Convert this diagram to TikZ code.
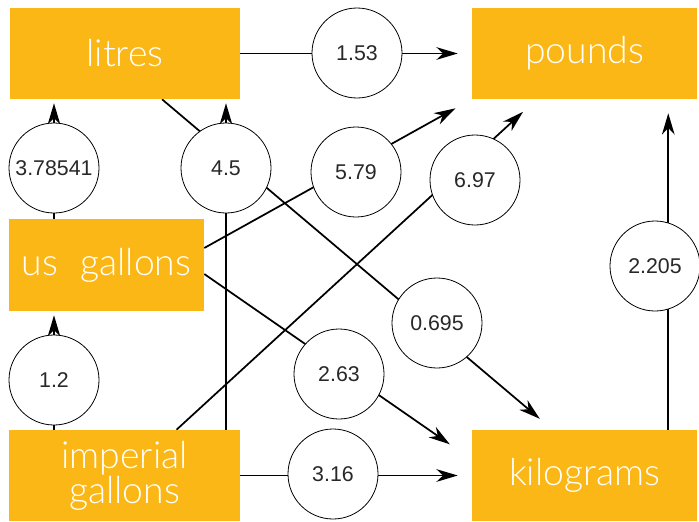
\documentclass[tikz,border=0pt]{standalone}
\usepackage{fontspec}
\setmainfont{Liberation Sans}
\newfontfamily\boxfont{Lato Light}
\usetikzlibrary{arrows.meta,calc,backgrounds}
\definecolor{unitorange}{RGB}{251,183,21}
\definecolor{numgray}{RGB}{40,40,40}

\begin{document}
\begin{tikzpicture}[
    x=0.75pt, y=-0.75pt,
    unit/.style={rectangle, fill=unitorange, text=white, inner sep=0pt, align=center, minimum height=68.25pt, font=\boxfont\fontsize{28}{23}\selectfont},
    factor/.style={circle, draw, line width=0.6pt, fill=white, minimum size=67.5pt, inner sep=0pt, text=numgray, font=\fontsize{16}{18}\selectfont},
    conv/.style={-{Stealth[length=16pt, width=9.5pt, inset=5pt]}, line width=1.3pt}
]
\useasboundingbox (0,0) rectangle (699,521);

% Units
\node [unit, minimum width=172.5pt] (litres) at (125,53.5) {litres};
\node [unit, minimum width=168.75pt] (pounds) at (584.5,53.5) {pounds};
\node [unit, minimum width=146.25pt, minimum height=69pt] (usgal) at (106.5,265) {us\hspace{0.6em}gallons};
\node [unit, minimum width=173.25pt] (impgal) at (124.5,475.5) {imperial\\gallons};
\node [unit, minimum width=168.75pt] (kilo) at (584.5,475.5) {kilograms};

% Factors
\node [factor] (f153) at (357,53) {1.53};
\node [factor] (f378) at (54,168) {3.78541};
\node [factor] (f45) at (226,168) {4.5};
\node [factor] (f579) at (356,172) {5.79};
\node [factor] (f697) at (475,180) {6.97};
\node [factor] (f2205) at (655,266) {2.205};
\node [factor] (f0695) at (437,323) {0.695};
\node [factor] (f12) at (54,380) {1.2};
\node [factor] (f263) at (339,374) {2.63};
\node [factor] (f316) at (333,474) {3.16};

% Paths
\begin{scope}[on background layer]
\draw [conv, shorten >=10.5pt] (litres.east) -- (pounds.west);
\draw [conv, shorten >=3pt] (usgal.north -| f378) -- (litres.south -| f378);
\draw [conv, shorten >=3pt] (impgal.north -| f45) -- (litres.south -| f45);
\draw [conv, shorten >=3pt] (impgal.north -| f12) -- (usgal.south -| f12);
\draw [conv, shorten >=12.75pt] ($(litres.south)+(37,0)$) -- ($(kilo.north west)+(81,0)$);
\draw [conv, shorten >=14pt] ($(usgal.east)+(0,-17)$) -- (pounds.south west);
\draw [conv, shorten >=20pt] ($(usgal.east)+(0,9)$) -- ($(kilo.west)+(0,-16)$);
\draw [conv, shorten >=14pt] ($(impgal.north)+(52,0)$) -- ($(pounds.south west)+(65,0)$);
\draw [conv, shorten >=10.5pt] (impgal.east) -- (kilo.west);
\draw [conv, shorten >=10.5pt] ($(kilo.north east)+(-29,0)$) -- ($(pounds.south east)+(-29,0)$);
\end{scope}

\end{tikzpicture}
\end{document}
